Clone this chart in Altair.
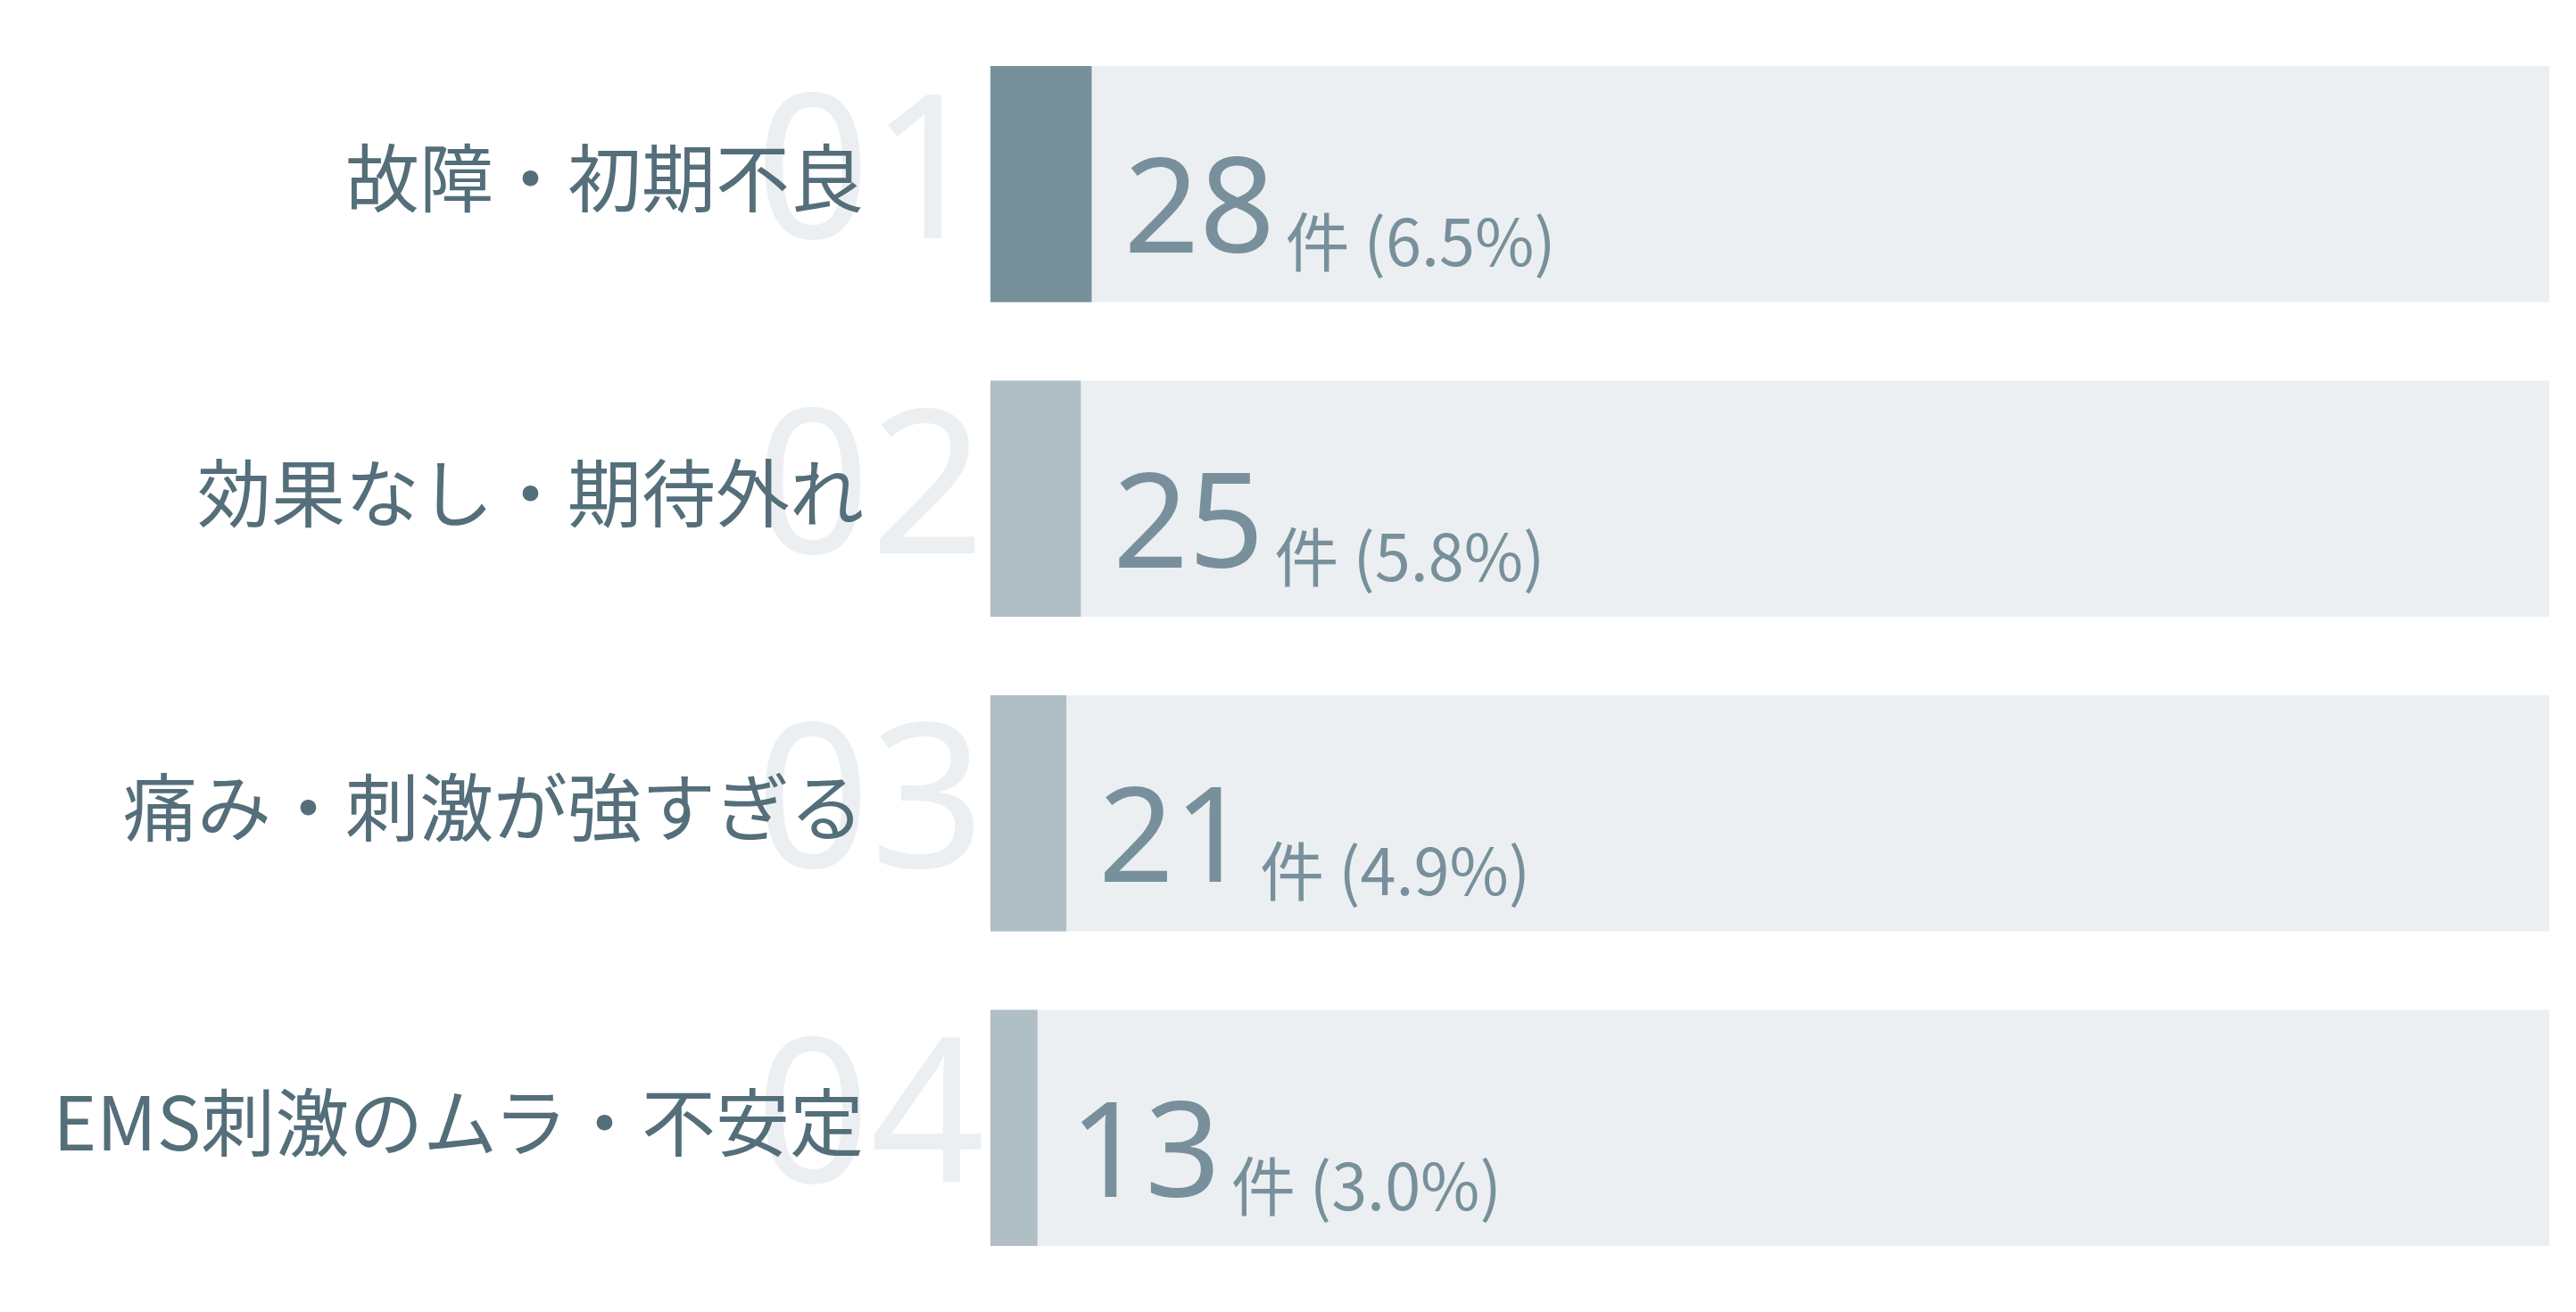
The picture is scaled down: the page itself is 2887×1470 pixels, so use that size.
import altair as alt
import pandas as pd

labels = ["故障・初期不良", "効果なし・期待外れ", "痛み・刺激が強すぎる", "EMS刺激のムラ・不安定"]
counts = [28, 25, 21, 13]
percents = ["6.5%", "5.8%", "4.9%", "3.0%"]
ranks = ["01", "02", "03", "04"]
total = 431

df = pd.DataFrame({
    "label": labels,
    "count": counts,
    "pct": percents,
    "rank": ranks,
    "total": [total] * len(labels),
})
df["suffix"] = "件 (" + df["pct"] + ")"

xscale = alt.Scale(domain=[0, total], nice=False, zero=True)
yenc = alt.Y("label:N", sort=labels, axis=None,
             scale=alt.Scale(paddingInner=0.25, paddingOuter=0.125))

base = alt.Chart(df)

bg = base.mark_bar(color="#ECEFF1").encode(
    x=alt.X("total:Q", scale=xscale, axis=None), y=yenc)

bars = base.mark_bar().encode(
    x=alt.X("count:Q", scale=xscale, axis=None), y=yenc,
    color=alt.condition(alt.datum.rank == "01", alt.value("#78909C"), alt.value("#B0BEC5")))

idx = base.mark_text(align="right", baseline="alphabetic", dy=61, fontSize=225,
                     font="Noto Sans", fontWeight=400, color="#ECEFF1").encode(
    x=alt.value(-6), y=yenc, text="rank:N")

lab = base.mark_text(align="right", baseline="middle", fontSize=83,
                     font="Noto Sans CJK JP", color="#546E7A").encode(
    x=alt.value(-142), y=yenc, text="label:N")

num = base.mark_text(align="left", baseline="alphabetic", dx=36, dy=77, fontSize=148,
                     font="Noto Sans", color="#78909C").encode(
    x=alt.X("count:Q", scale=xscale, axis=None), y=yenc, text="count:Q")

suf = base.mark_text(align="left", baseline="alphabetic", dx=217, dy=92, fontSize=72,
                     font="Noto Sans CJK JP", color="#78909C").encode(
    x=alt.X("count:Q", scale=xscale, axis=None), y=yenc, text="suffix:N")

chart = alt.layer(bg, bars, idx, lab, num, suf).properties(
    width=1747, height=1410,
    autosize=alt.AutoSizeParams(type="none"),
    padding={"left": 1102, "top": 22, "right": 14, "bottom": 14},
).configure_view(stroke=None)

chart.save("out.html", embed_options={"renderer": "svg", "actions": False})
